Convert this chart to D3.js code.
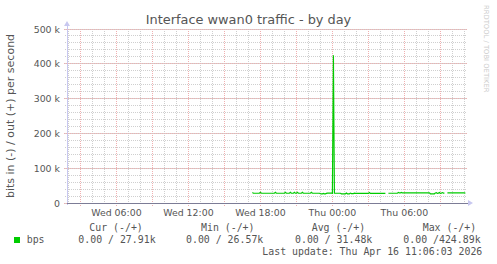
<!DOCTYPE html>
<html>
<head>
<meta charset="utf-8">
<script src="https://cdn.jsdelivr.net/npm/d3@7"></script>
<style>
	body {margin:0; background:#fff;}
	text {font-family:"DejaVu Sans"; fill:#555;}
	.mono {font-family:"DejaVu Sans Mono";}
</style>
</head>
<body>
<svg id="chart" width="497" height="264"></svg>
<script>
//chart texts
var chartTitle = "Interface wwan0 traffic - by day";
var yAxisLabel = "bits in (-) / out (+) per second";
var watermark = "RRDTOOL / TOBI OETIKER";

//y ticks (bits per second) and their labels
var yMajorTicks = [0, 100000, 200000, 300000, 400000, 500000];
var yTickLabels = ["0", "100 k", "200 k", "300 k", "400 k", "500 k"];

//time window shown (400 px, 5 min per px)
var timeStart = new Date(2026, 3, 15, 1, 53);
var timeEnd = new Date(2026, 3, 16, 11, 13);

//out traffic samples, one every 5 minutes, in kbit/s (null = no data)
var sampleStart = new Date(2026, 3, 15, 17, 20);
var sampleMinutes = 5;
var outKbps = [
	30,28,28,28,28,28,28,28,30.5,28,28,28,
	28,28,28,28,28,28,28,28,28,28,28,30.5,
	28,28,28,28,28,28,28,28,28,30.5,28,28,
	28,28,30.5,28,28,28,30.5,28,28,30.5,28,28,
	28,28,30.5,28,28,28,28,28,28,28,28,30.5,
	28,28,28,28,28,28,28,28,27,26.5,26.5,27.5,
	26.5,26.5,27.5,28.5,28.5,28.5,28.5,28.5,28,424.89,28,28,
	28,28,28,28,28,26.5,26.5,26.5,26.5,26.5,28.5,26.5,
	26.5,26.5,28.5,27,27,27,28.5,27.5,27.5,27.5,27.5,27.5,
	27.5,27.5,27.5,27.5,27.5,27.5,27.5,27.5,27.5,30,27.5,27.5,
	27.5,27.5,27.5,27.5,27.5,27.5,27.5,27.5,27.5,27.5,27.5,27.5,
	27.5,27.5,null,null,28,28,28,28,28,28,28,28,
	28,28,30.5,29,29,30.5,29,29,29,29,29,29,
	29,29,29,29,29,29,29,29,29,29,29,29,
	29,29,29,29,29,29,29,29,29,29,26.5,26.5,
	26.5,26.5,26.5,29,30,27.5,28.5,30,27.5,28.5,30,28.5,
	28.5,null,null,29,29,29,29,29,29,29,29,29,
	29,29,29,29,29,29,29,29,29,27.91
];

//legend
var seriesName = "bps";
var seriesColor = "#00cc00";
var legendHeads = ["Cur (-/+)", "Min (-/+)", "Avg (-/+)", "Max (-/+)"];
var legendValues = ["0.00 / 27.91k", "0.00 / 26.57k", "0.00 / 31.48k", "0.00 /424.89k"];
var lastUpdate = "Last update: Thu Apr 16 11:06:03 2026";

function drawChart(svgId)
{
	var svg = d3.select("#" + svgId);
	var left = 67, right = 467, top = 29, bottom = 203;

	var x = d3.scaleTime().domain([timeStart, timeEnd]).range([left, right]);
	var y = d3.scaleLinear().domain([0, 500000]).range([bottom, top]);

	//build points
	var points = outKbps.map(function(v, i) {
		return {t: d3.timeMinute.offset(sampleStart, i * sampleMinutes), v: v == null ? null : v * 1000};
	});

	//minor grid
	var grid = svg.append("g").attr("shape-rendering", "crispEdges");
	x.ticks(d3.timeHour.every(1)).forEach(function(t) {
		grid.append("line").attr("x1", x(t)).attr("x2", x(t)).attr("y1", top).attr("y2", bottom + 2)
			.attr("stroke", "#cfcfcf").attr("stroke-dasharray", "1,1");
	});
	y.ticks(25).forEach(function(v) {
		grid.append("line").attr("x1", left - 2).attr("x2", right).attr("y1", y(v)).attr("y2", y(v))
			.attr("stroke", "#cfcfcf").attr("stroke-dasharray", "1,1");
	});
	//major grid
	x.ticks(d3.timeHour.every(3)).forEach(function(t) {
		grid.append("line").attr("x1", x(t)).attr("x2", x(t)).attr("y1", top).attr("y2", bottom + 3)
			.attr("stroke", "#f0b0b0").attr("stroke-dasharray", "1,1");
	});
	yMajorTicks.forEach(function(v) {
		grid.append("line").attr("x1", left - 3).attr("x2", right).attr("y1", y(v)).attr("y2", y(v))
			.attr("stroke", "#f0b0b0").attr("stroke-dasharray", "1,1");
	});

	//axes
	grid.append("line").attr("x1", left).attr("x2", left).attr("y1", top - 3).attr("y2", bottom + 2)
		.attr("stroke", "#c8c8f0");
	grid.append("line").attr("x1", left).attr("x2", right + 1).attr("y1", bottom).attr("y2", bottom)
		.attr("stroke", "#7c7c96");
	svg.append("path").attr("d", "M64,26L70,26L67,21Z").attr("fill", "#c8c8f0");
	svg.append("path").attr("d", "M468,200L468,206L473,203Z").attr("fill", "#c8c8f0");

	//y tick labels
	yMajorTicks.forEach(function(v, i) {
		svg.append("text").attr("x", 60).attr("y", y(v) + 3.5).attr("text-anchor", "end")
			.style("font-size", "9.4px").text(yTickLabels[i]);
	});

	//x tick labels
	var fmt = d3.timeFormat("%a %H:%M");
	x.ticks(d3.timeHour.every(6)).forEach(function(t) {
		svg.append("text").attr("x", x(t)).attr("y", 216).attr("text-anchor", "middle")
			.style("font-size", "9.4px").text(fmt(t));
	});

	//data line
	var line = d3.line()
		.defined(function(d) { return d.v != null; })
		.x(function(d) { return x(d.t); })
		.y(function(d) { return y(d.v); });
	svg.append("path").datum(points).attr("d", line)
		.attr("fill", "none").attr("stroke", seriesColor).attr("stroke-width", 1.2);

	//titles
	svg.append("text").attr("x", 248.5).attr("y", 24).attr("text-anchor", "middle")
		.style("font-size", "12.9px").text(chartTitle);
	svg.append("text").attr("transform", "translate(14,116) rotate(-90)").attr("text-anchor", "middle")
		.style("font-size", "11px").text(yAxisLabel);
	svg.append("text").attr("transform", "translate(483.5,5) rotate(90)")
		.style("font-size", "6.8px").style("fill", "#cccccc").text(watermark);

	//legend
	var headX = [89.3, 201, 311.7, 422.7];
	var valX = [78.3, 186, 295, 403.3];
	legendHeads.forEach(function(h, i) {
		svg.append("text").attr("class", "mono").attr("x", headX[i]).attr("y", 230.5)
			.style("font-size", "9.9px").attr("xml:space", "preserve").text(h);
		svg.append("text").attr("class", "mono").attr("x", valX[i]).attr("y", 243)
			.style("font-size", "9.9px").attr("xml:space", "preserve").text(legendValues[i]);
	});
	svg.append("rect").attr("x", 14).attr("y", 237).attr("width", 6).attr("height", 6).attr("fill", seriesColor);
	svg.append("text").attr("class", "mono").attr("x", 26.7).attr("y", 243)
		.style("font-size", "9.9px").text(seriesName);
	svg.append("text").attr("class", "mono").attr("x", 482.3).attr("y", 255).attr("text-anchor", "end")
		.style("font-size", "9.9px").text(lastUpdate);
}

drawChart("chart");
</script>
</body>
</html>
